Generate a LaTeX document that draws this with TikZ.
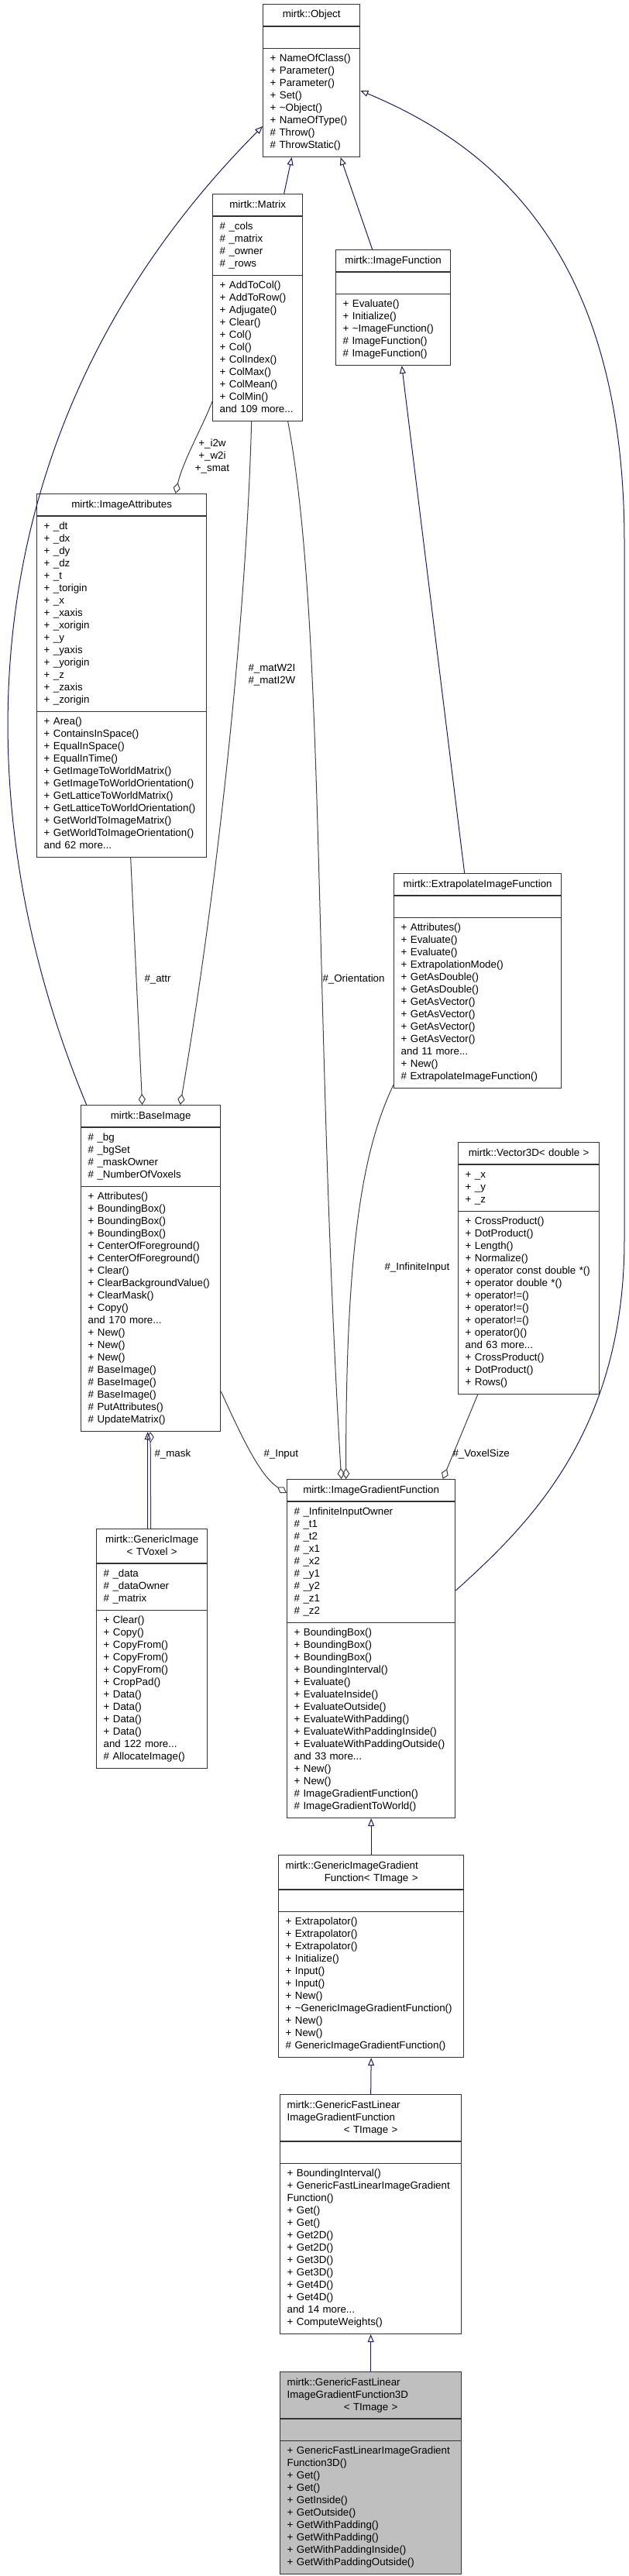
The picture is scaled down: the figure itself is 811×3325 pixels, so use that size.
\documentclass[tikz,border=0pt]{standalone}
\usepackage{fontspec}
\setmainfont{Liberation Sans}
\usetikzlibrary{shapes.multipart,arrows.meta,calc}
\setlength{\parindent}{0pt}
\hyphenpenalty=10000
\definecolor{navy}{RGB}{25,25,112}
\definecolor{aggr}{RGB}{64,64,64}
\definecolor{focus}{RGB}{191,191,191}
\newcommand{\cpart}[1]{\strut#1\strut}
\newcommand{\ctr}[1]{\makebox[\hsize]{#1}}

\begin{document}
\begin{tikzpicture}[x = 0.75pt, y = -0.75pt, line width = 0.75pt,
    cls/.style = {rectangle split, rectangle split parts = 3, draw = black!80, line width = 1pt,
      fill = white, anchor = north west, align = left, inner xsep = 6.75pt, inner ysep = 4.1pt,
      font = \fontsize{10}{12}\selectfont},
    inh/.style = {draw = navy, -{Triangle[open, length = 7.5pt, width = 6pt]}},
    agg/.style = {draw = aggr, -{Diamond[open, length = 10.5pt, width = 7pt]}},
    lbl/.style = {font = \fontsize{10}{12}\selectfont, inner sep = 0pt, align = left, anchor = west}]
\useasboundingbox (0,0) rectangle (811,3325);

\draw
    (339,5) node[cls, text width = 80.25pt](obj){\cpart{\ctr{mirtk::Object}}
      \nodepart{two}\cpart{}
      \nodepart{three}\cpart{+ NameOfClass()\\+ Parameter()\\+ Parameter()\\+ Set()\\+ \textasciitilde Object()\\+ NameOfType()\\\# Throw()\\\# ThrowStatic()}}
    (274,250) node[cls, text width = 73.5pt](mat){\cpart{\ctr{mirtk::Matrix}}
      \nodepart{two}\cpart{\# \_cols\\\# \_matrix\\\# \_owner\\\# \_rows}
      \nodepart{three}\cpart{+ AddToCol()\\+ AddToRow()\\+ Adjugate()\\+ Clear()\\+ Col()\\+ Col()\\+ ColIndex()\\+ ColMax()\\+ ColMean()\\+ ColMin()\\and 109 more...}}
    (433,322) node[cls, text width = 97.5pt](imf){\cpart{\ctr{mirtk::ImageFunction}}
      \nodepart{two}\cpart{}
      \nodepart{three}\cpart{+ Evaluate()\\+ Initialize()\\+ \textasciitilde ImageFunction()\\\# ImageFunction()\\\# ImageFunction()}}
    (47,637) node[cls, text width = 150.75pt](att){\cpart{\ctr{mirtk::ImageAttributes}}
      \nodepart{two}\cpart{+ \_dt\\+ \_dx\\+ \_dy\\+ \_dz\\+ \_t\\+ \_torigin\\+ \_x\\+ \_xaxis\\+ \_xorigin\\+ \_y\\+ \_yaxis\\+ \_yorigin\\+ \_z\\+ \_zaxis\\+ \_zorigin}
      \nodepart{three}\cpart{+ Area()\\+ ContainsInSpace()\\+ EqualInSpace()\\+ EqualInTime()\\+ GetImageToWorldMatrix()\\+ GetImageToWorldOrientation()\\+ GetLatticeToWorldMatrix()\\+ GetLatticeToWorldOrientation()\\+ GetWorldToImageMatrix()\\+ GetWorldToImageOrientation()\\and 62 more...}}
    (508,1127) node[cls, text width = 148.5pt](ext){\cpart{\ctr{mirtk::ExtrapolateImageFunction}}
      \nodepart{two}\cpart{}
      \nodepart{three}\cpart{+ Attributes()\\+ Evaluate()\\+ Evaluate()\\+ ExtrapolationMode()\\+ GetAsDouble()\\+ GetAsDouble()\\+ GetAsVector()\\+ GetAsVector()\\+ GetAsVector()\\+ GetAsVector()\\and 11 more...\\+ New()\\\# ExtrapolateImageFunction()}}
    (104,1426) node[cls, text width = 121.5pt](bas){\cpart{\ctr{mirtk::BaseImage}}
      \nodepart{two}\cpart{\# \_bg\\\# \_bgSet\\\# \_maskOwner\\\# \_NumberOfVoxels}
      \nodepart{three}\cpart{+ Attributes()\\+ BoundingBox()\\+ BoundingBox()\\+ BoundingBox()\\+ CenterOfForeground()\\+ CenterOfForeground()\\+ Clear()\\+ ClearBackgroundValue()\\+ ClearMask()\\+ Copy()\\and 170 more...\\+ New()\\+ New()\\+ New()\\\# BaseImage()\\\# BaseImage()\\\# BaseImage()\\\# PutAttributes()\\\# UpdateMatrix()}}
    (591,1474) node[cls, text width = 123pt](vec){\cpart{\ctr{mirtk::Vector3D< double >}}
      \nodepart{two}\cpart{+ \_x\\+ \_y\\+ \_z}
      \nodepart{three}\cpart{+ CrossProduct()\\+ DotProduct()\\+ Length()\\+ Normalize()\\+ operator const double *()\\+ operator double *()\\+ operator!=()\\+ operator!=()\\+ operator!=()\\+ operator()()\\and 63 more...\\+ CrossProduct()\\+ DotProduct()\\+ Rows()}}
    (370,1909) node[cls, text width = 149.25pt](igf){\cpart{\ctr{mirtk::ImageGradientFunction}}
      \nodepart{two}\cpart{\# \_InfiniteInputOwner\\\# \_t1\\\# \_t2\\\# \_x1\\\# \_x2\\\# \_y1\\\# \_y2\\\# \_z1\\\# \_z2}
      \nodepart{three}\cpart{+ BoundingBox()\\+ BoundingBox()\\+ BoundingBox()\\+ BoundingInterval()\\+ Evaluate()\\+ EvaluateInside()\\+ EvaluateOutside()\\+ EvaluateWithPadding()\\+ EvaluateWithPaddingInside()\\+ EvaluateWithPaddingOutside()\\and 33 more...\\+ New()\\+ New()\\\# ImageGradientFunction()\\\# ImageGradientToWorld()}}
    (124,1973) node[cls, text width = 93.75pt](gim){\cpart{\ctr{mirtk::GenericImage}\\\ctr{< TVoxel >}}
      \nodepart{two}\cpart{\# \_data\\\# \_dataOwner\\\# \_matrix}
      \nodepart{three}\cpart{+ Clear()\\+ Copy()\\+ CopyFrom()\\+ CopyFrom()\\+ CopyFrom()\\+ CropPad()\\+ Data()\\+ Data()\\+ Data()\\+ Data()\\and 122 more...\\\# AllocateImage()}}
    (359,2394) node[cls, text width = 165.75pt](gig){\cpart{mirtk::GenericImageGradient\\\ctr{Function< TImage >}}
      \nodepart{two}\cpart{}
      \nodepart{three}\cpart{+ Extrapolator()\\+ Extrapolator()\\+ Extrapolator()\\+ Initialize()\\+ Input()\\+ Input()\\+ New()\\+ \textasciitilde GenericImageGradientFunction()\\+ New()\\+ New()\\\# GenericImageGradientFunction()}}
    (361,2703) node[cls, text width = 162pt](gfl){\cpart{mirtk::GenericFastLinear\\ImageGradientFunction\\\ctr{< TImage >}}
      \nodepart{two}\cpart{}
      \nodepart{three}\cpart{+ BoundingInterval()\\+ GenericFastLinearImageGradient\\Function()\\+ Get()\\+ Get()\\+ Get2D()\\+ Get2D()\\+ Get3D()\\+ Get3D()\\+ Get4D()\\+ Get4D()\\and 14 more...\\+ ComputeWeights()}}
    (361,3061) node[cls, fill = focus, text width = 162pt](g3d){\cpart{mirtk::GenericFastLinear\\ImageGradientFunction3D\\\ctr{< TImage >}}
      \nodepart{two}\cpart{}
      \nodepart{three}\cpart{+ GenericFastLinearImageGradient\\Function3D()\\+ Get()\\+ Get()\\+ GetInside()\\+ GetOutside()\\+ GetWithPadding()\\+ GetWithPadding()\\+ GetWithPaddingInside()\\+ GetWithPaddingOutside()}};

    % inheritance
    \draw [inh] ($(mat.north)+(34,0)$) -- ($(obj.south)+(-25.5,0)$);
    \draw [inh] ($(imf.north)+(-27,0)$) -- ($(obj.south)+(37.5,0)$);
    \draw [inh] ($(bas.north)+(-83,0)$) .. controls (-45,1050) and (-55,560) .. ($(obj.north west)+(0,158)$);
    \draw [inh] ($(igf.north east)+(0,144)$) .. controls (680,1970) and (806,1850) .. (806,1600)
        -- (806,700) .. controls (806,330) and (640,190) .. ($(obj.north east)+(0,112)$);
    \draw [inh] ($(ext.north)+(-17,0)$) -- ($(imf.south)+(11,0)$);
    \draw [inh] ($(gim.north)+(-5.5,0)$) -- ($(bas.south)+(-4,0)$);
    \draw [inh] (gig.north) -- (igf.south);
    \draw [inh] (gfl.north) -- (gig.south);
    \draw [inh] (g3d.north) -- (gfl.south);

    % members
    \draw [agg] ($(mat.south west)+(0,-26)$) .. controls (262,550) and (236,595) .. ($(att.north)+(69.5,0)$);
    \draw [agg] ($(mat.south)+(-8,0)$) .. controls (318,800) and (280,1150) .. ($(bas.north)+(38,0)$);
    \draw [agg] ($(mat.south)+(39,0)$) .. controls (420,800) and (405,1300) .. ($(igf.north)+(-38.5,0)$);
    \draw [agg] ($(att.south)+(11.5,0)$) -- ($(bas.north)+(-11,0)$);
    \draw [agg] ($(ext.south west)+(0,-5)$) .. controls (470,1480) and (446,1600) .. ($(igf.north)+(-32.5,0)$);
    \draw [agg] ($(bas.south east)+(0,-52)$) .. controls (310,1850) and (335,1905) .. ($(igf.north west)+(0,18)$);
    \draw [agg] ($(vec.south)+(-66,0)$) -- ($(igf.north)+(92.5,0)$);
    \draw [agg] ($(gim.north)+(-1.5,0)$) -- ($(bas.south)+(-0.5,0)$);

    \node[lbl, align = center, anchor = center] (li2w) at (274,589) {+\_i2w\\+\_w2i\\+\_smat};
    \node[lbl] (lmat) at (320,871) {\#\_matW2I\\\#\_matI2W};
    \node[lbl] (lorient) at (416,1264) {\#\_Orientation};
    \node[lbl] (lattr) at (186,1264) {\#\_attr};
    \node[lbl] (linf) at (496,1636) {\#\_InfiniteInput};
    \node[lbl] (lmask) at (199,1877) {\#\_mask};
    \node[lbl] (linput) at (340,1877) {\#\_Input};
    \node[lbl] (lvox) at (584,1877) {\#\_VoxelSize};

\end{tikzpicture}
\end{document}
